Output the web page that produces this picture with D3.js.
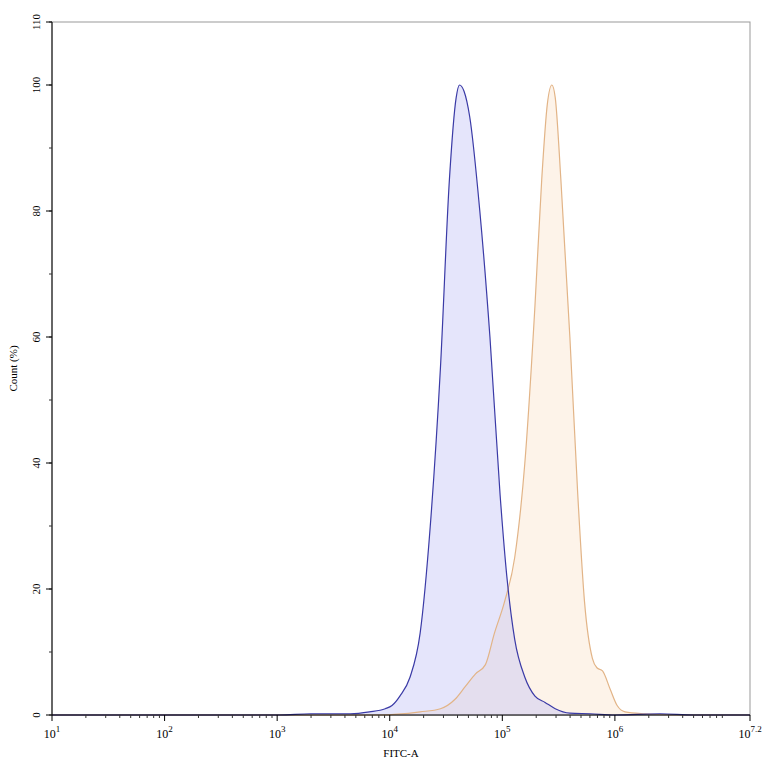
<!DOCTYPE html>
<html><head><meta charset="utf-8">
<script src="https://cdn.jsdelivr.net/npm/d3@7"></script>
<style>body{margin:0;background:#fff}text{font-family:"Liberation Serif","Times New Roman",serif}</style>
</head><body><svg id="c" width="764" height="764"></svg>
<script>
// x in log10 units, y in percent of max
const blueX = [1, 3.02, 3.3, 3.65, 3.82, 3.96, 4.02, 4.09, 4.18, 4.27, 4.36, 4.45, 4.53, 4.59, 4.62, 4.66, 4.71, 4.80, 4.89, 4.98, 5.04, 5.11, 5.20, 5.29, 5.38, 5.47, 5.60, 5.78, 6.0, 6.4, 6.7, 7.2];
const blueY = [0, 0, 0.2, 0.2, 0.5, 1, 1.5, 3, 6, 13, 30, 55, 85, 98, 100, 99, 95, 80, 60, 35, 22, 12, 6, 3, 2, 1, 0.3, 0.2, 0, 0.2, 0, 0];
const orangeX = [1, 3.9, 4.27, 4.45, 4.58, 4.67, 4.76, 4.85, 4.93, 5.02, 5.11, 5.20, 5.29, 5.35, 5.40, 5.44, 5.47, 5.52, 5.60, 5.67, 5.73, 5.80, 5.84, 5.89, 5.96, 6.02, 6.09, 6.27, 6.6, 7.2];
const orangeY = [0, 0, 0.5, 1, 2.5, 4.5, 6.5, 8, 13, 18, 25, 40, 65, 85, 97, 100, 98, 85, 60, 35, 18, 9, 7.5, 7, 4, 1.5, 0.5, 0.2, 0, 0];
const xMajors = [1, 2, 3, 4, 5, 6];
const yTicks = [0, 20, 40, 60, 80, 100];

const svg = d3.select('#c');
const x = d3.scaleLinear().domain([1, 7.2]).range([52, 750]);
const y = d3.scaleLinear().domain([0, 110]).range([715, 22]);

svg.append('rect').attr('x', 52).attr('y', 22).attr('width', 698).attr('height', 693)
    .attr('fill', 'none').attr('stroke', '#999').attr('stroke-width', 1);

const area = d3.area().x((d) => x(d[0])).y0(y(0)).y1((d) => y(d[1])).curve(d3.curveMonotoneX);
const line = d3.line().x((d) => x(d[0])).y((d) => y(d[1])).curve(d3.curveMonotoneX);
const series = [
  { xs: orangeX, ys: orangeY, fill: 'rgba(252,232,212,0.5)', stroke: '#e2b487' },
  { xs: blueX, ys: blueY, fill: 'rgba(190,190,245,0.4)', stroke: '#3a3aa6' }
];
series.forEach((s) => {
  const pts = s.xs.map((v, i) => [v, s.ys[i]]);
  svg.append('path').attr('d', area(pts)).attr('fill', s.fill);
});
series.forEach((s) => {
  const pts = s.xs.map((v, i) => [v, s.ys[i]]);
  svg.append('path').attr('d', line(pts)).attr('fill', 'none').attr('stroke', s.stroke).attr('stroke-width', 1.2);
});

// x axis
const gx = svg.append('g');
gx.append('line').attr('x1', 52).attr('x2', 750).attr('y1', 715).attr('y2', 715).attr('stroke', '#000');
const minor = [];
for (let d = 1; d < 7.2; d++) for (let k = 2; k <= 9; k++) { const v = d + Math.log10(k); if (v < 7.2) minor.push(v); }
gx.selectAll('.mi').data(minor).enter().append('line')
    .attr('x1', (d) => x(d)).attr('x2', (d) => x(d)).attr('y1', 715).attr('y2', 718).attr('stroke', '#333');
gx.selectAll('.ma').data(xMajors.concat([7.2])).enter().append('line')
    .attr('x1', (d) => x(d)).attr('x2', (d) => x(d)).attr('y1', 715).attr('y2', 721).attr('stroke', '#000');
const lbl = gx.selectAll('.lb').data(xMajors.concat([7.2])).enter().append('text')
    .attr('x', (d) => x(d)).attr('y', 738).attr('text-anchor', 'middle').attr('font-size', 12);
lbl.append('tspan').text('10');
lbl.append('tspan').attr('dy', -6).attr('font-size', 9).text((d) => d);
svg.append('text').attr('x', 401).attr('y', 757).attr('text-anchor', 'middle').attr('font-size', 11).text('FITC-A');

// y axis
const gy = svg.append('g');
gy.append('line').attr('x1', 52).attr('x2', 52).attr('y1', 22).attr('y2', 715).attr('stroke', '#000');
const yMinor = d3.range(0, 111, 10);
gy.selectAll('.ym').data(yMinor).enter().append('line')
    .attr('x1', 49).attr('x2', 52).attr('y1', (d) => y(d)).attr('y2', (d) => y(d)).attr('stroke', '#333');
gy.selectAll('.yt').data(yTicks.concat([110])).enter().append('line')
    .attr('x1', 46).attr('x2', 52).attr('y1', (d) => y(d)).attr('y2', (d) => y(d)).attr('stroke', '#000');
gy.selectAll('.yl').data(yTicks.concat([110])).enter().append('text')
    .attr('transform', (d) => `translate(40,${y(d)}) rotate(-90)`)
    .attr('text-anchor', 'middle').attr('font-size', 11).text((d) => d);
svg.append('text').attr('transform', `translate(17,${y(55)}) rotate(-90)`)
    .attr('text-anchor', 'middle').attr('font-size', 11).text('Count  (%)');
</script></body></html>
